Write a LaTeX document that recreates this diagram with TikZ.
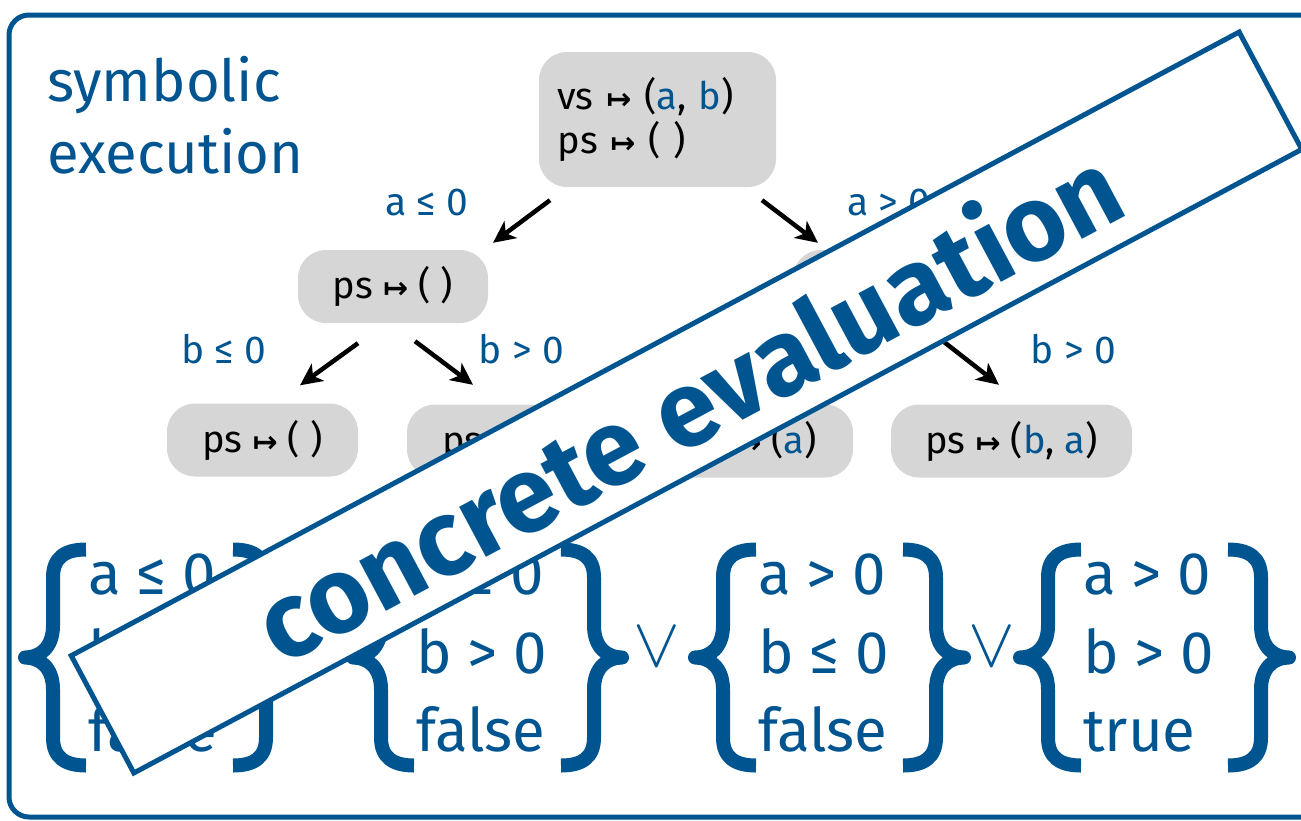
\documentclass[tikz,border=0pt]{standalone}
\usepackage{fontspec}
\setmainfont{Fira Sans}
\newfontfamily\arrowfont{DejaVu Sans}
\usepackage{tikz}
\usetikzlibrary{arrows.meta,calc}

\definecolor{evblue}{RGB}{0,85,145}
\definecolor{boxgray}{RGB}{214,214,214}
\newcommand{\mt}{{\arrowfont\bfseries\fontsize{30}{30}\selectfont ↦}}
\newcommand{\hl}[1]{\textcolor{evblue}{#1}}

\begin{document}
\begin{tikzpicture}[x=1pt,y=1pt,yscale=-1,
  state/.style={fill=boxgray, rounded corners=28pt, font=\fontsize{38}{44}\selectfont, minimum height=73pt, inner xsep=0pt},
  cond/.style={text=evblue, font=\fontsize{39}{44}\selectfont, anchor=base, inner sep=0pt},
  edge/.style={line width=4.5pt, -{Stealth[length=22pt,width=21pt,inset=6pt]}},
  row/.style={text=evblue, font=\fontsize{60}{78}\selectfont, anchor=base west, inner sep=0pt},
  orsym/.style={text=evblue, inner sep=0pt},
  brace/.style={evblue, line width=14pt, line join=round},
  lbrace/.pic={\draw[brace] (61,-108) .. controls (40,-108) and (28,-100) .. (28,-80) -- (28,-32) .. controls (28,-10) and (15,0) .. (0,0) .. controls (15,0) and (28,10) .. (28,32) -- (28,80) .. controls (28,100) and (40,108) .. (61,108);}
]
\useasboundingbox (0,0) rectangle (1301,820);
\clip (0,0) rectangle (1301,820);

% frame
\draw[evblue, line width=5pt, rounded corners=20pt] (9,15) rectangle (1340,817);

% title
\node[text=evblue, font=\fontsize{58}{72}\selectfont, align=left, anchor=north west, inner sep=0pt] (title) at (47,56) {symbolic\\execution};

% tree of states
\node[state, text width=200pt, minimum height=135pt, align=left, inner xsep=18.5pt] (root) at (657.5,119.5) {vs \mt{} (\hl{a}, \hl{b})\\ps \mt{} ( )};
\node[state, minimum width=190pt] (m1) at (393,286.5) {ps \mt{} ( )};
\node[state, minimum width=190pt] (m2) at (888,286.5) {ps \mt{} (\hl{a})};
\node[state, minimum width=191pt] (b1) at (262.5,440) {ps \mt{} ( )};
\node[state, minimum width=203pt] (b2) at (508.5,441) {ps \mt{} (\hl{b})};
\node[state, minimum width=203pt] (b3) at (751.5,441) {ps \mt{} (\hl{a})};
\node[state, minimum width=241pt] (b4) at (1011.5,441) {ps \mt{} (\hl{b}, \hl{a})};

% branches
\draw[edge] ($(root.south)+(-107.5,13)$) -- ($(m1.north)+(100,-7)$);
\draw[edge] ($(root.south)+(104.5,13)$) -- ($(m2.north)+(-70,-7)$);
\draw[edge] ($(m1.south)+(-35,20)$) -- ($(b1.north)+(37.5,-18)$);
\draw[edge] ($(m1.south)+(22,18)$) -- ($(b2.north)+(-35.5,-19.5)$);
\draw[edge] ($(m2.south)+(55,18)$) -- ($(b4.north)+(-12.5,-19.5)$);

% branch conditions
\node[cond] (ca1) at (427,215) {a ≤ 0};
\node[cond] (ca2) at (889,215) {a > 0};
\node[cond] (cb1) at (224,363) {b ≤ 0};
\node[cond] (cb2) at (521.5,363) {b > 0};
\node[cond] (cb4) at (1073.5,363) {b > 0};

% path conditions
\foreach \gx/\ra/\rb/\rc [count=\g] in {88/{a ≤ 0}/{b ≤ 0}/false, 416/{a ≤ 0}/{b > 0}/false, 758/{a > 0}/{b ≤ 0}/false, 1083/{a > 0}/{b > 0}/true}{
  \node[row] (g\g a) at (\gx,594) {\ra};
  \node[row] (g\g b) at (\gx,673) {\rb};
  \node[row] (g\g c) at (\gx,751) {\rc};
  \pic at ({\gx-63},657.5) {lbrace};
  \pic[xscale=-1] at ({\gx+206},657.5) {lbrace};
}
\foreach \ox [count=\k] in {657,992}
  \node[orsym] (or\k) at (\ox,647) {\scalebox{7}{$\vee$}};

% banner
\node[draw=evblue, line width=5pt, fill=white, rotate=28.1, minimum width=1324pt, minimum height=133pt, text=evblue, font=\fontsize{107}{107}\selectfont\bfseries] (banner) at (686.5,402.5) {concrete evaluation};

\end{tikzpicture}
\end{document}
